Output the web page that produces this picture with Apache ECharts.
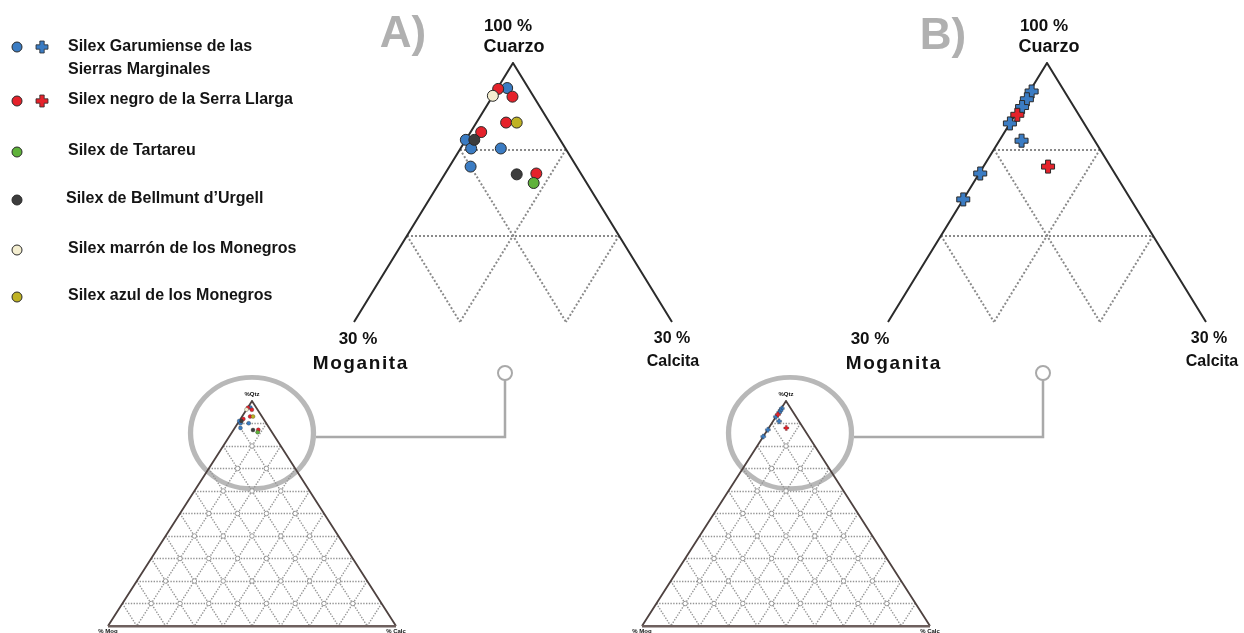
<!DOCTYPE html>
<html>
<head>
<meta charset="utf-8">
<title>Diagrama ternario Cuarzo - Moganita - Calcita</title>
<script src="https://cdn.jsdelivr.net/npm/echarts@6/dist/echarts.min.js"></script>
<style>
  html, body { margin: 0; padding: 0; background: #fff; }
  #chart { width: 1244px; height: 633px; }
</style>
</head>
<body>
<div id="chart"></div>
<script>
// composiciones [Cuarzo %, Moganita %, Calcita %]
// A) circulos
const garumA = [[97.1, 2.0, 0.9], [91.1, 8.9, 0.0], [90.1, 8.9, 1.0], [90.1, 6.1, 3.8], [88.0, 10.0, 2.0]];
const serraA = [[97.0, 2.9, 0.1], [96.1, 2.0, 1.9], [93.1, 4.1, 2.8], [92.0, 7.0, 1.0], [87.2, 4.2, 8.6]];
const tartareuA = [[86.1, 5.0, 8.9]];
const bellmuntA = [[91.1, 8.1, 0.8], [87.1, 6.1, 6.8]];
const marronA = [[96.2, 3.8, 0.0]];
const azulA = [[93.1, 3.1, 3.8]];
// B) cruces
const garumB = [[96.7, 3.1, 0.2], [95.8, 4.0, 0.2], [94.9, 4.9, 0.2], [93.0, 7.0, 0.0], [91.0, 6.9, 2.1], [87.2, 12.7, 0.1], [84.2, 15.8, 0.0]];
const serraB = [[94.0, 5.8, 0.2], [88.0, 5.9, 6.1]];

const legendNames = ['Silex Garumiense de las\nSierras Marginales', 'Silex negro de la Serra Llarga', 'Silex de Tartareu',
  'Silex de Bellmunt d\u2019Urgell', 'Silex marrón de los Monegros', 'Silex azul de los Monegros'];
const groupColors = ['#3b7cc3', '#e5222b', '#5fb23a', '#3d3d3d', '#f4eed0', '#bfb224'];

const zoomTicks = [80, 90];          // lineas de 10 % en el triangulo ampliado (Cuarzo 70-100)
const fullTicks = [10, 20, 30, 40, 50, 60, 70, 80, 90];

const FONT = '"Liberation Sans", Arial, sans-serif';
const CROSS = 'path://M-2.3,-6L2.3,-6L2.3,-2.3L6,-2.3L6,2.3L2.3,2.3L2.3,6L-2.3,6L-2.3,2.3L-6,2.3L-6,-2.3L-2.3,-2.3Z';

// ternario -> cartesiano (x = Calcita - Moganita, y = Cuarzo)
const tern = (q, m, c) => [c - m, q];
const toXY = arr => arr.map(d => tern(d[0], d[1], d[2]));

function zoomGridSegs() {
  const segs = [];
  zoomTicks.forEach(q => {
    const v = 100 - q;
    segs.push([tern(q, v, 0), tern(q, 0, v)]);
    segs.push([tern(q, v, 0), tern(70, v, 30 - v)]);
    segs.push([tern(q, 0, v), tern(70, 30 - v, v)]);
  });
  return segs.map(s => ({coords: s}));
}
function fullGridSegs() {
  const segs = [];
  fullTicks.forEach(v => {
    segs.push([tern(v, 100 - v, 0), tern(v, 0, 100 - v)]);
    segs.push([tern(100 - v, v, 0), tern(0, v, 100 - v)]);
    segs.push([tern(100 - v, 0, v), tern(0, 100 - v, v)]);
  });
  return segs.map(s => ({coords: s}));
}
function fullNodes() {
  const pts = [];
  for (let q = 10; q <= 80; q += 10) {
    for (let m = 10; m <= 90 - q; m += 10) pts.push(tern(q, m, 100 - q - m));
  }
  return pts;
}

const chart = echarts.init(document.getElementById('chart'));

// 0: A ampliado, 1: B ampliado, 2: A completo, 3: B completo
const grids = [
  {left: 354, top: 63, width: 318, height: 259},
  {left: 888, top: 63, width: 318, height: 259},
  {left: 108, top: 401, width: 288, height: 225},
  {left: 642, top: 401, width: 288, height: 225}
];
const xAxes = grids.map((g, i) => ({gridIndex: i, type: 'value', show: false, min: i < 2 ? -30 : -100, max: i < 2 ? 30 : 100}));
const yAxes = grids.map((g, i) => ({gridIndex: i, type: 'value', show: false, min: i < 2 ? 70 : 0, max: 100}));

const series = [];
function addFrame(i, zoomed) {
  series.push({
    type: 'lines', coordinateSystem: 'cartesian2d', xAxisIndex: i, yAxisIndex: i, silent: true,
    data: zoomed ? zoomGridSegs() : fullGridSegs(),
    lineStyle: {color: zoomed ? '#8a8a8a' : '#959595', width: zoomed ? 2 : 1.4, type: 'dotted', opacity: 1}
  });
  const lo = zoomed ? 70 : 0, side = 100 - lo;
  series.push({
    type: 'lines', coordinateSystem: 'cartesian2d', xAxisIndex: i, yAxisIndex: i, silent: true,
    data: [{coords: [tern(lo, side, 0), tern(100, 0, 0), tern(lo, 0, side)]}], polyline: true,
    lineStyle: {color: zoomed ? '#2b2b2b' : '#4e4240', width: zoomed ? 2 : 1.8, opacity: 1}
  });
  if (!zoomed) {
    series.push({
      type: 'lines', coordinateSystem: 'cartesian2d', xAxisIndex: i, yAxisIndex: i, silent: true,
      data: [{coords: [tern(0, 100, 0), tern(0, 0, 100)]}],
      lineStyle: {color: '#6e605e', width: 3, opacity: 1}
    });
    series.push({
      type: 'scatter', xAxisIndex: i, yAxisIndex: i, silent: true, symbol: 'circle', symbolSize: 4.5,
      data: fullNodes(), itemStyle: {color: '#ffffff', borderColor: '#9a9a9a', borderWidth: 1, opacity: 1}
    });
  }
}
addFrame(0, true); addFrame(1, true); addFrame(2, false); addFrame(3, false);

function addPoints(name, data, color, cross, panel, small) {
  series.push({
    name, type: 'scatter', xAxisIndex: panel, yAxisIndex: panel, clip: false,
    symbol: cross ? CROSS : 'circle',
    symbolSize: small ? (cross ? 5 : 4) : (cross ? 13 : 11),
    data: toXY(data),
    itemStyle: {color, borderColor: '#2a2a2a', borderWidth: small ? 0.3 : 1, opacity: 1}
  });
}
const setA = [garumA, serraA, tartareuA, bellmuntA, marronA, azulA];
setA.forEach((d, k) => { addPoints(legendNames[k], d, groupColors[k], false, 0, false); addPoints(legendNames[k], d, groupColors[k], false, 2, true); });
[garumB, serraB].forEach((d, k) => { addPoints(legendNames[k], d, groupColors[k], true, 1, false); addPoints(legendNames[k], d, groupColors[k], true, 3, true); });

// leyenda, rotulos y lupas
const graphic = [];
const txt = (x, y, text, size, opts = {}) => graphic.push({
  type: 'text', x, y, silent: true,
  style: Object.assign({text, fill: '#111', font: `bold ${size}px ${FONT}`, textAlign: 'center', textVerticalAlign: 'middle'}, opts)
});
const crossPts = (cx, cy, a, b) => [[-a, -b], [a, -b], [a, -a], [b, -a], [b, a], [a, a], [a, b], [-a, b], [-a, a], [-b, a], [-b, -a], [-a, -a]].map(p => [cx + p[0], cy + p[1]]);

const legendY = [47, 101, 152, 200, 250, 297];
legendNames.forEach((n, k) => {
  graphic.push({type: 'circle', silent: true, shape: {cx: 17, cy: legendY[k], r: 5}, style: {fill: groupColors[k], stroke: '#2a2a2a', lineWidth: 1}});
  if (k < 2) graphic.push({type: 'polygon', silent: true, shape: {points: crossPts(42, legendY[k], 2.2, 6)}, style: {fill: groupColors[k], stroke: '#2a2a2a', lineWidth: 0.8}});
  txt(k === 3 ? 66 : 68, legendY[k] + (k === 0 ? 11.5 : -1), n, 16, {textAlign: 'left', lineHeight: 23, fill: '#141414'});
});

// rotulos de los triangulos
txt(403, 35, 'A)', 44, {fill: '#b0b0b0'});
txt(943, 37, 'B)', 44, {fill: '#b0b0b0'});
[[508, 514, 358, 360, 672, 673], [1044, 1049, 870, 893, 1209, 1212]].forEach(p => {
  txt(p[0], 26, '100 %', 17);
  txt(p[1], 47, 'Cuarzo', 18);
  txt(p[2], 339, '30 %', 17);
  txt(p[3], 364, 'M o g a n i t a'.replace(/ /g, '\u200A'), 19);
  txt(p[4], 339, '30 %', 16);
  txt(p[5], 362, 'Calcita', 16);
});
// rotulos minimos del triangulo completo
[[252, 108, 396], [786, 642, 930]].forEach(p => {
  txt(p[0], 394, '%Qtz', 6);
  txt(p[1], 631, '% Mog', 6);
  txt(p[2], 631, '% Calc', 6);
});

// lupas y conectores
[[252, 433, 505, 316], [790, 433, 1043, 854]].forEach(p => {
  graphic.push({type: 'circle', silent: true, x: p[0], y: p[1], scaleX: 1.06, scaleY: 0.96, shape: {cx: 0, cy: 0, r: 58}, style: {fill: 'none', stroke: '#b8b8b8', lineWidth: 5}});
  graphic.push({type: 'polyline', silent: true, shape: {points: [[p[3], 437], [p[2], 437], [p[2], 380]]}, style: {stroke: '#a9a9a9', lineWidth: 2.5, fill: 'none'}});
  graphic.push({type: 'circle', silent: true, shape: {cx: p[2], cy: 373, r: 7}, style: {fill: '#fff', stroke: '#a9a9a9', lineWidth: 2}});
});

chart.setOption({
  animation: false,
  backgroundColor: '#fff',
  grid: grids,
  xAxis: xAxes,
  yAxis: yAxes,
  series,
  graphic
});
</script>
</body>
</html>
